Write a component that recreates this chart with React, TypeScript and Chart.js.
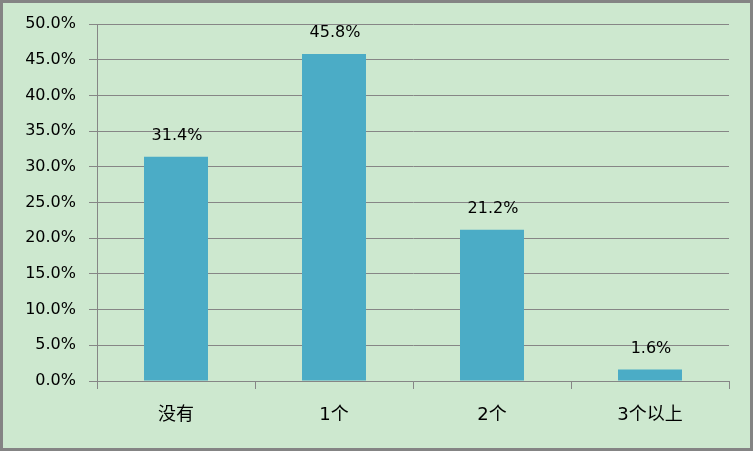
import React, { useEffect, useRef } from "react";
import { Chart, registerables } from "chart.js";

Chart.register(...registerables);

const categories = ["没有", "1个", "2个", "3个以上"];
const values = [31.4, 45.8, 21.2, 1.6];
const yTickStep = 5;
const yMax = 50;

const FONT = "'DejaVu Sans', 'Noto Sans CJK SC', sans-serif";
const GRID = "#868686";

const bgPlugin = {
  id: "bg",
  beforeDraw(chart: any) {
    const { ctx, width, height } = chart;
    ctx.save();
    ctx.fillStyle = "#CDE8CF";
    ctx.fillRect(0, 0, width, height);
    ctx.strokeStyle = "#848484";
    ctx.lineWidth = 3;
    ctx.strokeRect(1.5, 1.5, width - 3, height - 3);
    ctx.restore();
  },
};

const labelPlugin = {
  id: "vlabels",
  afterDatasetsDraw(chart: any) {
    const { ctx } = chart;
    const meta = chart.getDatasetMeta(0);
    ctx.save();
    ctx.font = `16px ${FONT}`;
    ctx.fillStyle = "#000";
    ctx.textAlign = "center";
    ctx.textBaseline = "middle";
    meta.data.forEach((bar: any, i: number) => {
      ctx.fillText(values[i].toFixed(1) + "%", bar.x + 1, bar.y - 21);
    });
    ctx.restore();
  },
};

export default function App() {
  const ref = useRef<HTMLCanvasElement>(null);
  useEffect(() => {
    const chart = new Chart(ref.current!, {
      type: "bar",
      data: {
        labels: categories,
        datasets: [
          {
            data: values,
            backgroundColor: "#4BACC6",
            categoryPercentage: 1,
            barPercentage: 0.405,
          },
        ],
      },
      options: {
        animation: false,
        responsive: false,
        devicePixelRatio: 1,
        layout: { padding: { top: 24, right: 24, left: 0, bottom: 0 } },
        plugins: { legend: { display: false }, tooltip: { enabled: false } },
        scales: {
          x: {
            afterFit: (s: any) => {
              s.height = 70;
            },
            grid: {
              drawOnChartArea: false,
              tickLength: 8,
              color: GRID,
              offset: true,
            },
            border: { color: GRID, width: 1 },
            ticks: {
              color: "#000",
              font: { family: FONT, size: 18 },
              padding: 16,
            },
          },
          y: {
            min: 0,
            max: yMax,
            afterFit: (s: any) => {
              s.width = 97;
            },
            grid: { color: GRID, tickLength: 8 },
            border: { color: GRID, width: 1 },
            ticks: {
              stepSize: yTickStep,
              color: "#000",
              font: { family: FONT, size: 16 },
              padding: 13,
              callback: (v: any) => Number(v).toFixed(1) + "%",
            },
          },
        },
      },
      plugins: [bgPlugin, labelPlugin],
    });
    return () => chart.destroy();
  }, []);
  return (
    <div style={{ position: "fixed", left: 0, top: 0, width: 753, height: 451 }}>
      <canvas ref={ref} width={753} height={451} />
    </div>
  );
}
